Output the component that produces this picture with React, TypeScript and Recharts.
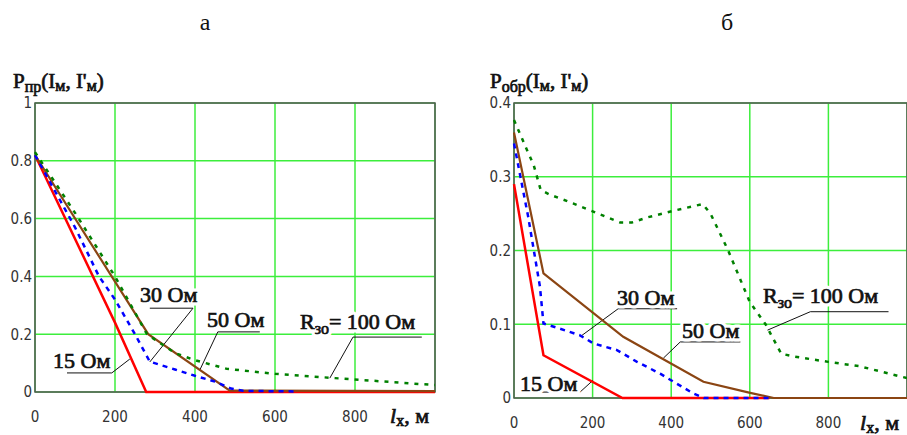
import React, { ReactElement } from "react";
import {
  CartesianGrid,
  Line,
  LineChart,
  ReferenceArea,
  ReferenceLine,
  XAxis,
  YAxis,
} from "recharts";

// panel "а": P_пр(I_м, I'_м) vs l_x
const a15x = [0, 200, 278, 1000];
const a15y = [0.82, 0.24, 0, 0];
const a30x = [0, 100, 160, 200, 250, 287, 350, 400, 450, 490, 520, 650];
const a30y = [0.82, 0.57, 0.4, 0.32, 0.2, 0.105, 0.078, 0.056, 0.036, 0.012, 0.004, 0.002];
const a50x = [0, 283, 487, 1000];
const a50y = [0.82, 0.2, 0.005, 0.003];
const a100x = [0, 100, 200, 280, 350, 400, 480, 600, 750, 1000];
const a100y = [0.83, 0.62, 0.4, 0.2, 0.135, 0.11, 0.08, 0.063, 0.048, 0.024];

// panel "б": P_обр(I_м, I'_м) vs l_x
const b15x = [0, 75, 276, 650];
const b15y = [0.29, 0.058, 0, 0];
const b30x = [0, 36, 66, 75, 117, 168, 202, 262, 313, 372, 406, 457, 483, 660];
const b30y = [0.345, 0.246, 0.151, 0.101, 0.094, 0.085, 0.074, 0.065, 0.049, 0.033, 0.022, 0.006, 0, 0];
const b50x = [0, 75, 278, 482, 601, 661, 1000];
const b50y = [0.36, 0.169, 0.083, 0.022, 0.007, 0, 0];
const b100x = [0, 30, 50, 68, 90, 150, 210, 270, 300, 340, 415, 480, 500, 545, 600, 640, 680, 715, 800, 880, 1000];
const b100y = [0.377, 0.34, 0.316, 0.282, 0.276, 0.264, 0.251, 0.238, 0.238, 0.245, 0.255, 0.263, 0.25, 0.2, 0.13, 0.1, 0.06, 0.056, 0.049, 0.043, 0.027];

const xTicks = [0, 200, 400, 600, 800];
const aYTicks = [0, 0.2, 0.4, 0.6, 0.8, 1];
const bYTicks = [0, 0.1, 0.2, 0.3, 0.4];

// leader lines for the labels: [x1, y1, x2, y2] in data units
const aLeaders = [
  [287, 0.29, 395, 0.29], [395, 0.29, 287, 0.104],
  [457, 0.208, 562, 0.208], [457, 0.208, 412, 0.076],
  [795, 0.19, 967, 0.19], [795, 0.19, 737, 0.048],
  [80, 0.066, 192, 0.066], [192, 0.066, 237, 0.114],
];
const bLeaders = [
  [265, 0.121, 415, 0.121], [265, 0.121, 168, 0.083],
  [423, 0.076, 576, 0.076], [423, 0.076, 380, 0.054],
  [754, 0.117, 953, 0.117], [754, 0.117, 645, 0.092],
  [23, 0.008, 168, 0.008], [168, 0.008, 201, 0.024],
];

const pts = (xs: number[], ys: number[]) => xs.map((x, i) => ({ x, y: ys[i] }));

const GRID = "#3cee3c";
const FRAME = "#555";
const serif = "'Liberation Serif', 'Times New Roman', serif";
const tickStyle = {
  fontFamily: "'Liberation Sans Narrow', 'DejaVu Sans Condensed', 'Liberation Sans', sans-serif",
  fontSize: 15,
  fill: "#333",
};

interface PanelProps {
  left: number;
  width: number;
  margin: { top: number; right: number; bottom: number; left: number };
  yMax: number;
  yTicks: number[];
  series: { x: number[]; y: number[] }[];
  leaders: number[][];
}

function Panel({ left, width, margin, yMax, yTicks, series, leaders }: PanelProps): ReactElement {
  const [s15, s30, s50, s100] = series;
  return (
    <div style={{ position: "absolute", left, top: 0 }}>
      <LineChart width={width} height={435} margin={margin}>
        <CartesianGrid stroke={GRID} strokeWidth={1.5} />
        <XAxis
          type="number"
          dataKey="x"
          domain={[0, 1000]}
          ticks={xTicks}
          interval={0}
          tickLine={false}
          axisLine={false}
          tickSize={0}
          tickMargin={19}
          height={30}
          tick={tickStyle}
        />
        <YAxis
          type="number"
          dataKey="y"
          domain={[0, yMax]}
          ticks={yTicks}
          interval={0}
          tickLine={false}
          axisLine={false}
          tickSize={0}
          tickMargin={3}
          width={30}
          tick={tickStyle}
        />
        <ReferenceArea
          x1={0}
          x2={1000}
          y1={0}
          y2={yMax}
          fill="none"
          stroke={FRAME}
          strokeWidth={1.5}
          ifOverflow="visible"
        />
        {leaders.map((s, i) => (
          <ReferenceLine
            key={`ld-${i}`}
            segment={[{ x: s[0], y: s[1] }, { x: s[2], y: s[3] }]}
            stroke="#111"
            strokeWidth={1}
            ifOverflow="visible"
          />
        ))}
        <Line data={pts(s15.x, s15.y)} dataKey="y" type="linear" dot={false}
          stroke="#ff0000" strokeWidth={2.5} isAnimationActive={false} />
        <Line data={pts(s50.x, s50.y)} dataKey="y" type="linear" dot={false}
          stroke="#8b4513" strokeWidth={2.2} isAnimationActive={false} />
        <Line data={pts(s30.x, s30.y)} dataKey="y" type="linear" dot={false}
          stroke="#0000ff" strokeWidth={2.5} strokeDasharray="5 5" isAnimationActive={false} />
        <Line data={pts(s100.x, s100.y)} dataKey="y" type="linear" dot={false}
          stroke="#008000" strokeWidth={2.5} strokeDasharray="4 6" isAnimationActive={false} />
      </LineChart>
    </div>
  );
}

// serif text thickened with a thin stroke (looks like the bold Mathcad labels)
const heavy = { fontFamily: serif, fill: "#111", stroke: "#111", strokeWidth: 0.7 };

function Lbl({ x, y, children }: { x: number; y: number; children: React.ReactNode }) {
  return (
    <g>
      <text x={x} y={y} fontFamily={serif} fontSize={22} fill="#fff" stroke="#fff" strokeWidth={7}
        strokeLinejoin="round" aria-hidden="true">
        {children}
      </text>
      <text x={x} y={y} fontSize={22} {...heavy}>
        {children}
      </text>
    </g>
  );
}

function Title({ x, y, sub }: { x: number; y: number; sub: string }) {
  return (
    <text x={x} y={y} fontSize={21} {...heavy}>
      P<tspan fontSize={16} dy={4}>{sub}</tspan>
      <tspan dy={-4}>(I</tspan>
      <tspan fontSize={16} dy={3}>м</tspan>
      <tspan dy={-3}>, I'</tspan>
      <tspan fontSize={16} dy={3}>м</tspan>
      <tspan dy={-3}>)</tspan>
    </text>
  );
}

function AxisName({ x, y }: { x: number; y: number }) {
  return (
    <text x={x} y={y} fontSize={22} {...heavy}>
      <tspan fontStyle="italic">l</tspan>
      <tspan fontSize={16} dy={3}>x</tspan>
      <tspan dy={-3}>, м</tspan>
    </text>
  );
}

function R30() {
  return (
    <>
      R<tspan fontSize={16} dy={5}>зо</tspan>
      <tspan dy={-5}>= 100 Ом</tspan>
    </>
  );
}

export default function App(): ReactElement {
  return (
    <div style={{ position: "absolute", left: 0, top: 0, width: 907, height: 435, overflow: "hidden", background: "#fff" }}>
      <Panel
        left={0}
        width={460}
        margin={{ top: 103, right: 25, bottom: 13, left: 5 }}
        yMax={1}
        yTicks={aYTicks}
        series={[
          { x: a15x, y: a15y },
          { x: a30x, y: a30y },
          { x: a50x, y: a50y },
          { x: a100x, y: a100y },
        ]}
        leaders={aLeaders}
      />
      <Panel
        left={460}
        width={457}
        margin={{ top: 103, right: 10, bottom: 7, left: 24 }}
        yMax={0.4}
        yTicks={bYTicks}
        series={[
          { x: b15x, y: b15y },
          { x: b30x, y: b30y },
          { x: b50x, y: b50y },
          { x: b100x, y: b100y },
        ]}
        leaders={bLeaders}
      />
      <svg width={907} height={435} style={{ position: "absolute", left: 0, top: 0, pointerEvents: "none" }}>
        <text x={205} y={30} textAnchor="middle" fontFamily={serif} fontSize={24} fill="#111">а</text>
        <text x={727} y={30} textAnchor="middle" fontFamily={serif} fontSize={24} fill="#111">б</text>
        <Title x={13} y={88} sub="пр" />
        <Title x={490} y={88} sub="обр" />
        <AxisName x={390} y={423} />
        <AxisName x={860} y={430} />
        <Lbl x={140} y={302}>30 Ом</Lbl>
        <Lbl x={207} y={327}>50 Ом</Lbl>
        <Lbl x={300} y={329}><R30 /></Lbl>
        <Lbl x={53} y={368}>15 Ом</Lbl>
        <Lbl x={617} y={305}>30 Ом</Lbl>
        <Lbl x={682} y={338}>50 Ом</Lbl>
        <Lbl x={763} y={303}><R30 /></Lbl>
        <Lbl x={520} y={391}>15 Ом</Lbl>
      </svg>
    </div>
  );
}
